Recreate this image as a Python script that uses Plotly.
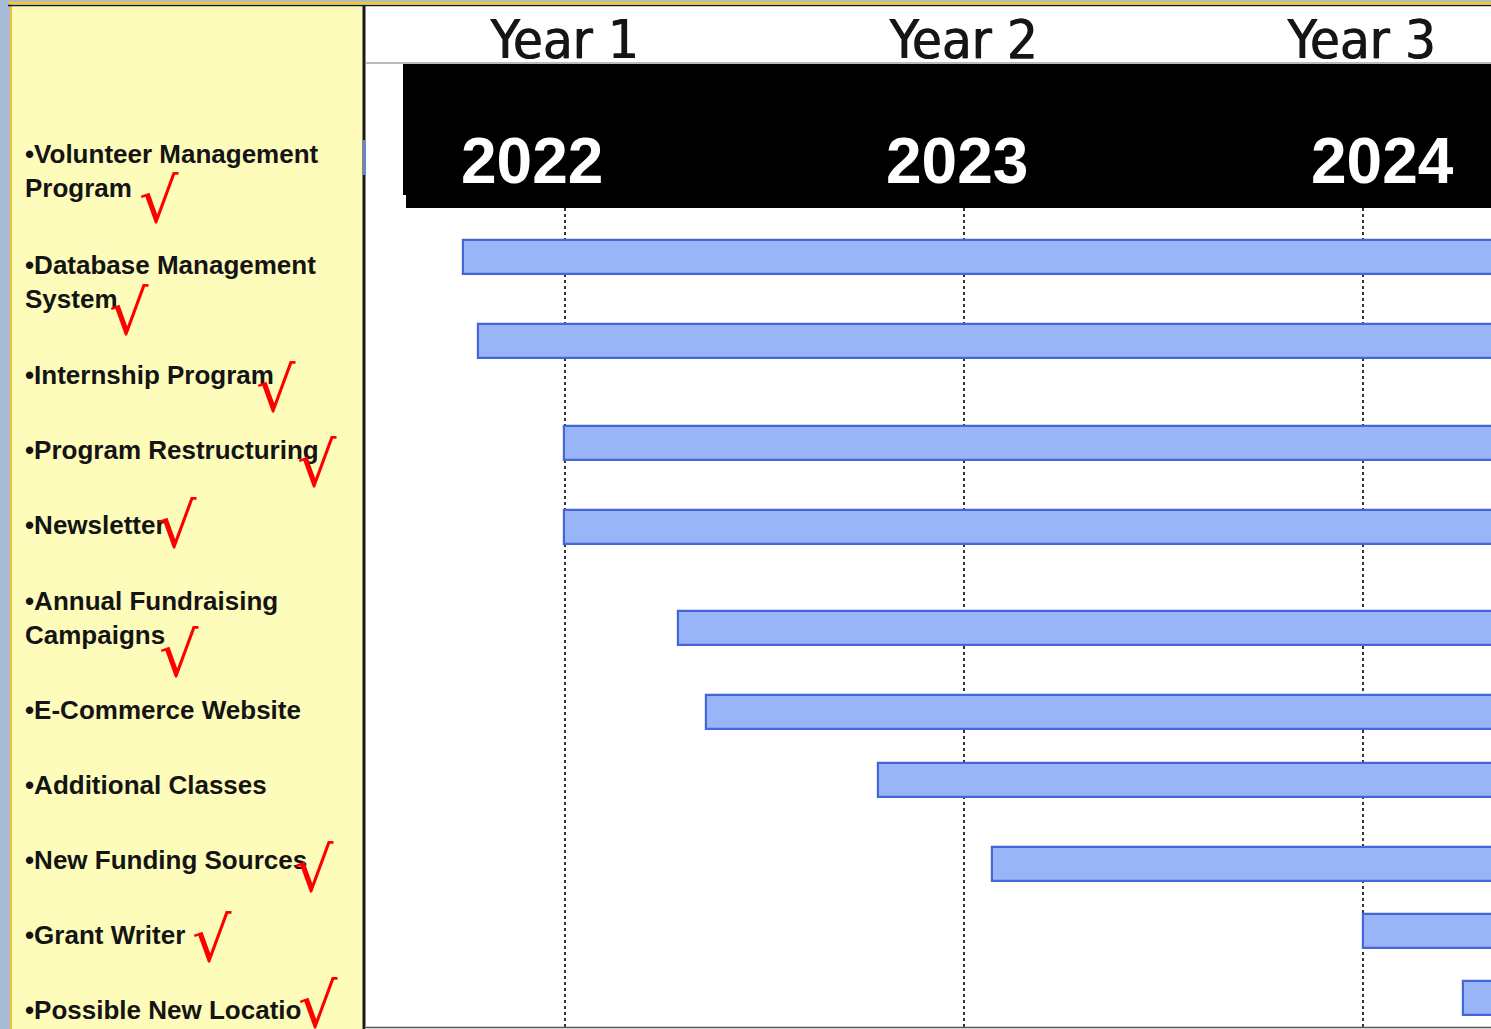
import plotly.graph_objects as go

W, H = 1491, 1029

# ---- data ----
bar_tasks = ["Database Management System", "Internship Program", "Program Restructuring",
             "Newsletter", "Annual Fundraising Campaigns", "E-Commerce Website",
             "Additional Classes", "New Funding Sources", "Grant Writer", "Possible New Location"]
bar_rows = [0.58, 1.58, 2.80, 3.80, 5.00, 6.00, 6.81, 7.81, 8.61, 9.40]
bar_start = [0.745, 0.782, 0.998, 0.998, 1.283, 1.353, 1.784, 2.069, 3.000, 3.251]
bar_end = [3.5, 3.5, 3.5, 3.5, 3.5, 3.5, 3.5, 3.5, 3.5, 3.5]

year_ticks = [1, 2, 3]
year_labels = ["Year 1", "Year 2", "Year 3"]
calendar_years = ["2022", "2023", "2024"]

panel_labels = ["•Volunteer Management<br>Program", "•Database Management<br>System",
                "•Internship Program", "•Program Restructuring", "•Newsletter",
                "•Annual Fundraising<br>Campaigns", "•E-Commerce Website",
                "•Additional Classes", "•New Funding Sources", "•Grant Writer",
                "•Possible New Locatio"]
panel_label_y = [171, 282, 375, 450, 525, 618, 710, 785, 860, 935, 1010]   # px centers
checked = [True, True, True, True, True, True, False, False, True, True, True]
check_x = [159, 129, 276, 317, 177, 179, None, None, 314, 212, 318]
check_y = [201, 312, 389, 465, 525, 654, None, None, 869, 939, 1005]

# ---- layout helpers ----
def px(x):
    return x / W

def py(y):
    return 1 - y / H

fig = go.Figure()
fig.add_trace(go.Bar(
    y=bar_rows, x=[e - s for s, e in zip(bar_start, bar_end)], base=bar_start,
    orientation="h", width=0.405, text=bar_tasks, textposition="none",
    hovertemplate="%{text}<extra></extra>",
    marker=dict(color="#9ab4f8", line=dict(color="#4466d6", width=2.2)),
))

shapes = [
    # left blue strip
    dict(type="rect", xref="paper", yref="paper", x0=0, x1=px(11), y0=0, y1=1,
         fillcolor="#a8bcd6", line_width=0, layer="below"),
    # yellow panel
    dict(type="rect", xref="paper", yref="paper", x0=px(11), x1=px(363), y0=0, y1=py(6),
         fillcolor="#fdfcba", line_width=0, layer="below"),
    dict(type="line", xref="paper", yref="paper", x0=px(11), x1=px(11), y0=0, y1=py(5),
         line=dict(color="#e8c23a", width=2)),
    # top border lines
    dict(type="rect", xref="paper", yref="paper", x0=0, x1=1, y0=py(2), y1=1,
         fillcolor="#a8bcd6", line_width=0),
    dict(type="line", xref="paper", yref="paper", x0=px(8), x1=1, y0=py(3), y1=py(3),
         line=dict(color="#f2c62c", width=2.5)),
    dict(type="line", xref="paper", yref="paper", x0=px(8), x1=1, y0=py(5.5), y1=py(5.5),
         line=dict(color="#1a1a1a", width=1.5)),
    # divider between panel and chart
    dict(type="line", xref="paper", yref="paper", x0=px(364), x1=px(364), y0=0, y1=py(5),
         line=dict(color="#1a1a1a", width=3)),
    dict(type="line", xref="paper", yref="paper", x0=px(364.5), x1=px(364.5), y0=py(175), y1=py(140),
         line=dict(color="#6c86c8", width=3)),
    # black header band
    dict(type="rect", xref="paper", yref="paper", x0=px(403), x1=1, y0=py(195), y1=py(64),
         fillcolor="#000000", line_width=0),
    dict(type="rect", xref="paper", yref="paper", x0=px(406), x1=1, y0=py(208), y1=py(190),
         fillcolor="#000000", line_width=0),
    dict(type="line", xref="paper", yref="paper", x0=px(366), x1=1, y0=py(63), y1=py(63),
         line=dict(color="#777777", width=1)),
    # bottom line
    dict(type="line", xref="paper", yref="paper", x0=px(366), x1=1, y0=py(1027.5), y1=py(1027.5),
         line=dict(color="#555555", width=1.5)),
]

annotations = []
for xv, lab in zip(year_ticks, year_labels):
    annotations.append(dict(x=xv - 0.005, xref="x", y=py(40), yref="paper", text=lab, showarrow=False,
                            xanchor="center", yanchor="middle",
                            font=dict(family="DejaVu Sans Condensed, Liberation Sans Narrow, Arial Narrow",
                                      size=54, color="#151515",
                                      shadow="1px 0px 0px #151515")))
cal_x = [532, 957, 1382]
for cx, lab in zip(cal_x, calendar_years):
    annotations.append(dict(x=px(cx), xref="paper", y=py(161), yref="paper", text="<b>" + lab + "</b>",
                            showarrow=False, xanchor="center", yanchor="middle",
                            font=dict(family="Liberation Sans, Arial", size=64, color="#ffffff")))
for lab, yc in zip(panel_labels, panel_label_y):
    annotations.append(dict(x=px(23), xref="paper", y=py(yc), yref="paper", text="<b>" + lab + "</b>",
                            showarrow=False, xanchor="left", yanchor="middle", align="left",
                            font=dict(family="Liberation Sans, Arial", size=26, color="#141414")))
for ok, cx, cy in zip(checked, check_x, check_y):
    if ok:
        annotations.append(dict(x=px(cx), xref="paper", y=py(cy), yref="paper", text="√",
                                showarrow=False, xanchor="center", yanchor="middle",
                                font=dict(family="DejaVu Sans", size=62, color="#ff0000")))

fig.update_layout(
    width=W, height=H, margin=dict(l=0, r=0, t=0, b=0),
    paper_bgcolor="#ffffff", plot_bgcolor="#ffffff", showlegend=False,
    bargap=0, shapes=shapes, annotations=annotations,
    xaxis=dict(domain=[px(366), 1], range=[0.501, 3.321], tickvals=year_ticks,
               showticklabels=False, showgrid=True, griddash="dot", gridcolor="#333333",
               gridwidth=1.5, zeroline=False, showline=False, ticks=""),
    yaxis=dict(domain=[py(1027), py(208)], range=[9.75, 0], showticklabels=False,
               showgrid=False, zeroline=False, showline=False, ticks=""),
)

fig.write_html("out.html", config={"displayModeBar": False},
               post_script="document.body.style.margin='0';document.body.style.overflow='hidden';")
